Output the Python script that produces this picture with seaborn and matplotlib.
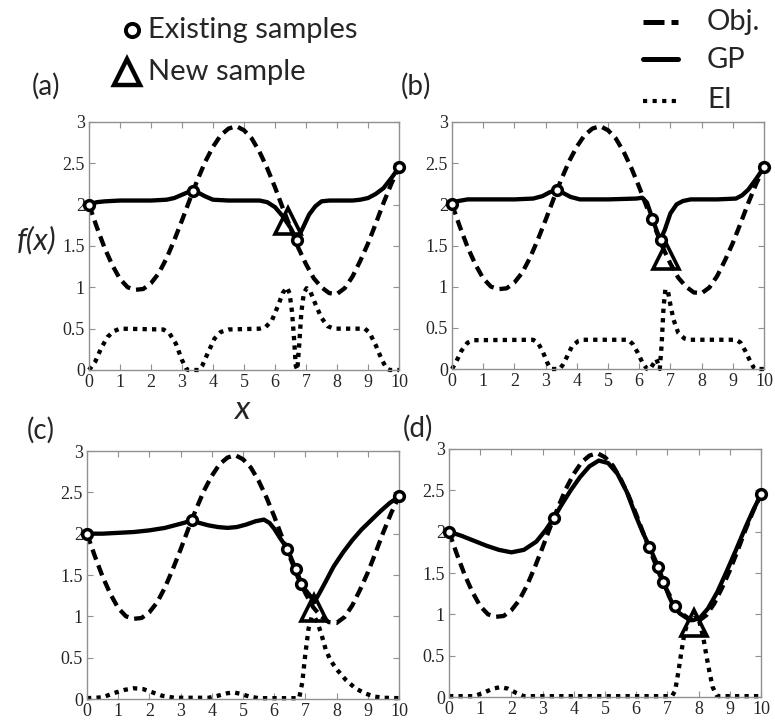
import numpy as np
import pandas as pd
import seaborn as sns
import matplotlib.pyplot as plt

# objective function (same in every panel)
obj_x = [0, 0.25, 0.5, 0.75, 1.0, 1.25, 1.5, 1.75, 2.0, 2.25, 2.5, 2.75, 3.0, 3.25,
         3.5, 3.75, 4.0, 4.25, 4.5, 4.75, 5.0, 5.25, 5.5, 5.75, 6.0, 6.25, 6.5, 6.75,
         7.0, 7.25, 7.5, 7.75, 8.0, 8.25, 8.5, 8.75, 9.0, 9.25, 9.5, 9.75, 10.0]
obj_y = [2.00, 1.73, 1.48, 1.27, 1.10, 1.00, 0.97, 0.98, 1.05, 1.17, 1.35, 1.57, 1.81, 2.06,
         2.30, 2.52, 2.70, 2.84, 2.92, 2.95, 2.90, 2.80, 2.64, 2.44, 2.21, 1.96, 1.72, 1.48,
         1.28, 1.11, 1.00, 0.93, 0.92, 0.99, 1.13, 1.32, 1.53, 1.77, 2.02, 2.25, 2.45]

# GP mean, panel (a)-(d)
gp_a_x = [0, 0.25, 0.5, 1.0, 1.5, 2.0, 2.5, 2.75, 3.0, 3.25, 3.35, 3.5, 3.75, 4.0, 4.5, 5.0,
          5.5, 5.75, 6.0, 6.25, 6.5, 6.7, 6.9, 7.1, 7.3, 7.5, 7.75, 8.0, 8.5, 8.75, 9.0,
          9.25, 9.5, 9.75, 10.0]
gp_a_y = [2.00, 2.03, 2.04, 2.05, 2.05, 2.05, 2.06, 2.08, 2.12, 2.16, 2.17, 2.15, 2.10, 2.06,
          2.05, 2.05, 2.05, 2.03, 1.97, 1.86, 1.72, 1.57, 1.72, 1.88, 1.98, 2.04, 2.05, 2.05,
          2.05, 2.06, 2.08, 2.13, 2.20, 2.32, 2.45]
gp_b_x = [0, 0.2, 0.5, 1.0, 2.0, 2.6, 2.9, 3.15, 3.35, 3.55, 3.8, 4.1, 5.0, 5.9, 6.1, 6.25,
          6.42, 6.56, 6.68, 6.82, 7.0, 7.2, 7.4, 7.65, 8.5, 9.1, 9.3, 9.5, 9.75, 10.0]
gp_b_y = [2.02, 2.04, 2.06, 2.06, 2.06, 2.07, 2.10, 2.15, 2.17, 2.14, 2.09, 2.06, 2.06, 2.07,
          2.08, 2.02, 1.83, 1.68, 1.57, 1.69, 1.89, 2.00, 2.04, 2.06, 2.06, 2.07, 2.11, 2.18,
          2.31, 2.45]
gp_c_x = [0, 0.5, 1.0, 1.5, 2.0, 2.5, 2.8, 3.1, 3.36, 3.6, 3.9, 4.2, 4.5, 4.8, 5.1, 5.4,
          5.67, 5.85, 6.0, 6.2, 6.42, 6.55, 6.69, 6.8, 6.88, 7.0, 7.15, 7.28, 7.45, 7.65,
          7.9, 8.2, 8.5, 8.8, 9.1, 9.4, 9.7, 10.0]
gp_c_y = [2.00, 2.00, 2.01, 2.02, 2.04, 2.07, 2.10, 2.13, 2.16, 2.13, 2.10, 2.08, 2.07, 2.08,
          2.11, 2.15, 2.17, 2.13, 2.06, 1.94, 1.82, 1.70, 1.57, 1.47, 1.39, 1.32, 1.25, 1.17,
          1.28, 1.42, 1.60, 1.77, 1.92, 2.05, 2.16, 2.27, 2.37, 2.45]
gp_d_x = [0, 0.4, 0.8, 1.2, 1.6, 2.0, 2.4, 2.8, 3.1, 3.35, 3.6, 3.9, 4.2, 4.5, 4.8, 5.1,
          5.4, 5.7, 6.0, 6.2, 6.42, 6.7, 6.87, 7.05, 7.21, 7.4, 7.6, 7.83, 8.05, 8.3, 8.6,
          8.9, 9.2, 9.5, 9.75, 10.0]
gp_d_y = [2.00, 1.95, 1.89, 1.83, 1.78, 1.75, 1.78, 1.88, 2.02, 2.16, 2.32, 2.50, 2.66, 2.79,
          2.86, 2.83, 2.70, 2.48, 2.18, 2.00, 1.82, 1.58, 1.40, 1.22, 1.09, 1.01, 0.96, 0.93,
          0.96, 1.07, 1.27, 1.52, 1.78, 2.05, 2.26, 2.45]

# expected improvement, panel (a)-(d)
ei_a_x = [0, 0.2, 0.4, 0.6, 0.8, 1.0, 2.4, 2.6, 2.8, 3.0, 3.15, 3.2, 3.55, 3.65, 3.85, 4.05,
          4.25, 4.5, 5.5, 5.7, 5.9, 6.1, 6.25, 6.38, 6.47, 6.55, 6.62, 6.67, 6.72, 6.78,
          6.85, 6.93, 7.02, 7.15, 7.3, 7.5, 7.7, 7.9, 8.9, 9.05, 9.25, 9.45, 9.6, 9.7, 10.0]
ei_a_y = [0, 0.10, 0.27, 0.40, 0.47, 0.50, 0.49, 0.44, 0.32, 0.12, 0.01, 0, 0, 0.05, 0.22,
          0.38, 0.46, 0.49, 0.50, 0.52, 0.60, 0.78, 0.93, 1.00, 0.93, 0.70, 0.35, 0.05, 0,
          0.30, 0.70, 0.93, 0.99, 0.94, 0.80, 0.63, 0.53, 0.50, 0.50, 0.45, 0.30, 0.12, 0.02,
          0, 0]
ei_b_x = [0, 0.15, 0.3, 0.5, 0.7, 2.6, 2.75, 2.9, 3.05, 3.15, 3.2, 3.45, 3.55, 3.7, 3.85,
          4.05, 4.2, 5.65, 5.8, 5.95, 6.1, 6.25, 6.35, 6.45, 6.55, 6.62, 6.66, 6.72, 6.78,
          6.84, 6.92, 7.0, 7.1, 7.25, 7.45, 7.6, 9.1, 9.25, 9.4, 9.55, 9.68, 9.72, 10.0]
ei_b_y = [0, 0.10, 0.22, 0.32, 0.35, 0.355, 0.32, 0.22, 0.08, 0.01, 0, 0, 0.05, 0.16, 0.28,
          0.34, 0.355, 0.355, 0.30, 0.20, 0.08, 0, 0, 0.06, 0.12, 0.05, 0, 0.30, 0.75, 0.97,
          0.95, 0.78, 0.60, 0.44, 0.37, 0.355, 0.355, 0.32, 0.22, 0.10, 0.01, 0, 0]
ei_c_x = [0, 0.5, 0.85, 1.2, 1.5, 1.8, 2.1, 2.4, 2.8, 3.9, 4.2, 4.5, 4.7, 4.95, 5.2, 5.5,
          6.8, 6.9, 7.0, 7.1, 7.2, 7.28, 7.38, 7.5, 7.65, 7.8, 8.0, 8.3, 8.6, 8.9, 9.2, 9.5,
          10.0]
ei_c_y = [0.01, 0.02, 0.07, 0.11, 0.13, 0.12, 0.08, 0.04, 0.015, 0.015, 0.04, 0.07, 0.08,
          0.06, 0.03, 0.01, 0.01, 0.20, 0.55, 0.85, 0.99, 1.00, 0.93, 0.80, 0.60, 0.47, 0.36,
          0.23, 0.13, 0.07, 0.03, 0.015, 0.01]
ei_d_x = [0, 0.8, 1.1, 1.4, 1.65, 1.9, 2.15, 2.4, 7.15, 7.25, 7.35, 7.45, 7.55, 7.7, 7.85,
          8.0, 8.15, 8.25, 8.35, 8.45, 8.58, 8.65, 10.0]
ei_d_y = [0.01, 0.01, 0.05, 0.10, 0.12, 0.10, 0.05, 0.01, 0.01, 0.08, 0.30, 0.55, 0.78,
          0.95, 1.00, 0.95, 0.72, 0.50, 0.30, 0.12, 0.02, 0.01, 0.01]

# samples
samp_a_x = [0, 3.35, 6.7, 10]
samp_a_y = [2.0, 2.17, 1.57, 2.45]
samp_b_x = [0, 3.35, 6.42, 6.7, 10]
samp_b_y = [2.0, 2.17, 1.82, 1.57, 2.45]
samp_c_x = [0, 3.35, 6.42, 6.7, 6.86, 10]
samp_c_y = [2.0, 2.17, 1.82, 1.57, 1.39, 2.45]
samp_d_x = [0, 3.35, 6.42, 6.7, 6.86, 7.25, 10]
samp_d_y = [2.0, 2.17, 1.82, 1.57, 1.39, 1.10, 2.45]
new_x = [6.42, 6.86, 7.28, 7.85]
new_y = [1.80, 1.37, 1.10, 0.90]

panel_labels = ["(a)", "(b)", "(c)", "(d)"]
x_ticks = list(range(11))
y_ticks = [0, 0.5, 1, 1.5, 2, 2.5, 3]
y_tick_labels = ["0", "0.5", "1", "1.5", "2", "2.5", "3"]


def main():
    sns.set_style("ticks")
    plt.rcParams['font.family'] = ['Lato', 'DejaVu Sans']

    W, H = 775, 724
    fig = plt.figure(figsize=(W / 100, H / 100), dpi=100)

    # axes rectangles in pixels: left, top, right, bottom
    boxes = [(89, 122, 399, 370), (452, 122, 764, 369),
             (87, 451, 399, 699), (449, 449, 761, 697)]
    gps = [(gp_a_x, gp_a_y), (gp_b_x, gp_b_y), (gp_c_x, gp_c_y), (gp_d_x, gp_d_y)]
    eis = [(ei_a_x, ei_a_y), (ei_b_x, ei_b_y), (ei_c_x, ei_c_y), (ei_d_x, ei_d_y)]
    samps = [(samp_a_x, samp_a_y), (samp_b_x, samp_b_y),
             (samp_c_x, samp_c_y), (samp_d_x, samp_d_y)]

    lw = 3.1
    for i, (l, t, r, b) in enumerate(boxes):
        ax = fig.add_axes([l / W, 1 - b / H, (r - l) / W, (b - t) / H])
        sns.lineplot(x=obj_x, y=obj_y, ax=ax, color='black', lw=lw,
                     linestyle=(0, (2.5, 1.4)), dash_capstyle='butt', clip_on=False)
        sns.lineplot(x=gps[i][0], y=gps[i][1], ax=ax, color='black', lw=lw, clip_on=False)
        sns.lineplot(x=eis[i][0], y=eis[i][1], ax=ax, color='black', lw=lw,
                     linestyle=(0, (1, 1.2)), dash_capstyle='butt', clip_on=False)
        ax.plot(samps[i][0], samps[i][1], 'o', ms=7, mfc='white', mec='black',
                mew=2.5, zorder=5, clip_on=False)
        ax.plot([new_x[i]], [new_y[i]], '^', ms=19, mfc='none', mec='black',
                mew=2.6, zorder=6, clip_on=False)

        ax.set_xlim(0, 10)
        ax.set_ylim(0, 3)
        ax.set_xticks(x_ticks)
        ax.set_yticks(y_ticks)
        ax.set_yticklabels(y_tick_labels)
        ax.tick_params(direction='in', top=True, right=True, length=4, width=0.8,
                       color='#909090', labelsize=13, pad=3)
        for lab in ax.get_xticklabels() + ax.get_yticklabels():
            lab.set_family('Liberation Serif')
        for sp in ax.spines.values():
            sp.set_color('#909090')
            sp.set_linewidth(1)
        ax.set_xlabel('')
        ax.set_ylabel('')

    # overlay in pixel coordinates for labels and legend
    lax = fig.add_axes([0, 0, 1, 1])
    lax.set_xlim(0, W)
    lax.set_ylim(H, 0)
    lax.axis('off')

    for lab, (px, py) in zip(panel_labels, [(46, 86), (416, 86), (41, 430), (418, 428)]):
        lax.text(px, py, lab, fontsize=20, ha='center', va='center')
    lax.text(37, 240, 'f(x)', fontsize=22, style='italic', ha='center', va='center')
    lax.text(242, 410, 'x', fontsize=24, style='italic', ha='center', va='center')

    # legend: markers
    lax.plot([132], [30], 'o', ms=9.5, mfc='white', mec='black', mew=2.8)
    lax.text(148, 30, 'Existing samples', fontsize=21, ha='left', va='center')
    lax.plot([127], [72], '^', ms=19, mfc='none', mec='black', mew=3.2)
    lax.text(148, 72, 'New sample', fontsize=21, ha='left', va='center')

    # legend: line styles
    lax.plot([643, 678], [22, 22], color='black', lw=3.6,
             linestyle=(0, (4.2, 1.4)), dash_capstyle='butt')
    lax.plot([643, 678], [59, 59], color='black', lw=3.6)
    lax.plot([643, 678], [101, 101], color='black', lw=3.0,
             linestyle=(0, (1, 1.3)), dash_capstyle='butt')
    lax.text(707, 22, 'Obj.', fontsize=21, ha='left', va='center')
    lax.text(707, 60, 'GP', fontsize=21, ha='left', va='center')
    lax.text(707, 100, 'EI', fontsize=21, ha='left', va='center')

    plt.savefig('out.png', dpi=100)


main()
